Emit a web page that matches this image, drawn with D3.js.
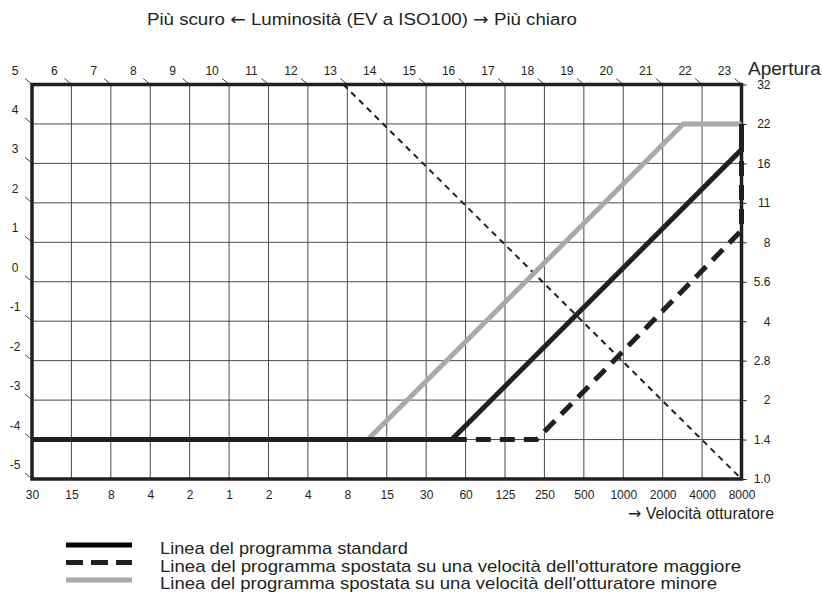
<!DOCTYPE html>
<html>
<head>
<meta charset="utf-8">
<script src="https://cdn.jsdelivr.net/npm/d3@7"></script>
<style>
  body { margin: 0; background: #fff; }
  text { font-family: "Liberation Sans", Arial, sans-serif; fill: #231f20; }
  tspan.arrow { font-family: "DejaVu Sans", sans-serif; }
</style>
</head>
<body>
<script>
// tick labels
var evLabels = [5, 6, 7, 8, 9, 10, 11, 12, 13, 14, 15, 16, 17, 18, 19, 20, 21, 22, 23];
var leftLabels = [5, 4, 3, 2, 1, 0, -1, -2, -3, -4, -5];
var shutterLabels = ["30", "15", "8", "4", "2", "1", "2", "4", "8", "15", "30", "60", "125", "250", "500", "1000", "2000", "4000", "8000"];
var apertureLabels = ["1.0", "1.4", "2", "2.8", "4", "5.6", "8", "11", "16", "22", "32"];

// program lines, [column step, aperture step]
var standardLine = [[0, 1], [10.65, 1], [18, 8.35], [18, 9]];
var fastLine = [[10.65, 1], [12.8, 1], [18, 6.3], [18, 9]];
var slowLine = [[8.52, 1], [16.52, 9], [18, 9]];
var evLine = [[7.9, 10], [18, 0]];

var legendItems = [
  "Linea del programma standard",
  "Linea del programma spostata su una velocità dell'otturatore maggiore",
  "Linea del programma spostata su una velocità dell'otturatore minore"
];

var dim = { width: 822, height: 597, left: 32, right: 741.5, top: 84.5, bottom: 479 };

var x = d3.scaleLinear().domain([0, 18]).range([dim.left, dim.right]);
var y = d3.scaleLinear().domain([0, 10]).range([dim.bottom, dim.top]);

var svg = d3.select("body").append("svg")
    .attr("width", dim.width)
    .attr("height", dim.height);

// title (arrows in DejaVu, which draws them wider)
var title = svg.append("text")
    .attr("x", 147).attr("y", 25)
    .attr("textLength", 430).attr("lengthAdjust", "spacingAndGlyphs")
    .style("font-size", "16px");
title.append("tspan").text("Più scuro ");
title.append("tspan").attr("class", "arrow").text("←");
title.append("tspan").text(" Luminosità (EV a ISO100) ");
title.append("tspan").attr("class", "arrow").text("→");
title.append("tspan").text(" Più chiaro");

// grid
var grid = svg.append("g").attr("class", "grid");
grid.selectAll("line.v").data(d3.range(1, 18)).enter()
  .append("line")
    .attr("x1", function(d) { return x(d); }).attr("x2", function(d) { return x(d); })
    .attr("y1", y(10)).attr("y2", y(0))
    .attr("stroke", "#4a4a4a").attr("stroke-width", 1);
grid.selectAll("line.h").data(d3.range(1, 10)).enter()
  .append("line")
    .attr("x1", x(0)).attr("x2", x(18))
    .attr("y1", function(d) { return y(d); }).attr("y2", function(d) { return y(d); })
    .attr("stroke", "#4a4a4a").attr("stroke-width", 1);

// bottom axis
var xAxis = d3.axisBottom(x).tickValues(d3.range(0, 19))
    .tickFormat(function(d) { return shutterLabels[d]; })
    .tickSize(0).tickPadding(11);
var gx = svg.append("g").attr("transform", "translate(0," + y(0) + ")").call(xAxis);
gx.select(".domain").remove();
gx.selectAll("text").style("font-size", "12px").style("font-family", "Liberation Sans, Arial, sans-serif").attr("fill", "#231f20");

// right axis
var yAxis = d3.axisRight(y).tickValues(d3.range(0, 11))
    .tickFormat(function(d) { return apertureLabels[d]; })
    .tickSize(5);
var gy = svg.append("g").attr("transform", "translate(" + x(18) + ",0)").call(yAxis);
gy.select(".domain").remove();
gy.selectAll("line").attr("stroke", "#231f20");
gy.selectAll("text")
    .attr("x", 29).attr("text-anchor", "end")
    .style("font-size", "12px").style("font-family", "Liberation Sans, Arial, sans-serif").attr("fill", "#231f20");

// EV labels with diagonal ticks (top row, then left column)
var evPoints = evLabels.map(function(v, i) { return { label: v, px: x(i), py: y(10) }; })
  .concat(leftLabels.slice(1).map(function(v, i) { return { label: v, px: x(0), py: y(9 - i) }; }));
var ev = svg.append("g").attr("class", "ev");
ev.selectAll("line").data(evPoints).enter().append("line")
    .attr("x1", function(d) { return d.px - 7; }).attr("y1", function(d) { return d.py - 6; })
    .attr("x2", function(d) { return d.px - 1; }).attr("y2", function(d) { return d.py - 1; })
    .attr("stroke", "#444").attr("stroke-width", 1);
ev.selectAll("text").data(evPoints).enter().append("text")
    .attr("x", function(d) { return d.px - 17; })
    .attr("y", function(d) { return d.py - 10; })
    .attr("text-anchor", "middle")
    .style("font-size", "12px")
    .text(function(d) { return d.label; });

// border
svg.append("rect")
    .attr("x", x(0)).attr("y", y(10))
    .attr("width", x(18) - x(0)).attr("height", y(0) - y(10))
    .attr("fill", "none").attr("stroke", "#231f20").attr("stroke-width", 3.5);

var line = d3.line().x(function(d) { return x(d[0]); }).y(function(d) { return y(d[1]); });

svg.append("path").datum(evLine).attr("d", line)
    .attr("fill", "none").attr("stroke", "#231f20").attr("stroke-width", 2)
    .attr("stroke-dasharray", "6,5");
svg.append("path").datum(slowLine).attr("d", line)
    .attr("fill", "none").attr("stroke", "#a7a9ac").attr("stroke-width", 5);
svg.append("path").datum(standardLine).attr("d", line)
    .attr("fill", "none").attr("stroke", "#231f20").attr("stroke-width", 5);
svg.append("path").datum(fastLine).attr("d", line)
    .attr("fill", "none").attr("stroke", "#231f20").attr("stroke-width", 5)
    .attr("stroke-dasharray", "15,9");

svg.append("text")
    .attr("x", 748).attr("y", 75)
    .style("font-size", "19px")
    .text("Apertura");

var speed = svg.append("text")
    .attr("x", 628).attr("y", 519)
    .attr("textLength", 146).attr("lengthAdjust", "spacingAndGlyphs")
    .style("font-size", "16px");
speed.append("tspan").attr("class", "arrow").text("→");
speed.append("tspan").text(" Velocità otturatore");

// legend
var legend = svg.append("g").attr("class", "legend");
var legendStyles = [
  { stroke: "#000", dash: null, width: 248 },
  { stroke: "#231f20", dash: "17,8", width: 581 },
  { stroke: "#a7a9ac", dash: null, width: 557 }
];
legendItems.forEach(function(t, i) {
  var ly = 545 + i * 17.5;
  legend.append("line")
      .attr("x1", 66).attr("x2", 132).attr("y1", ly).attr("y2", ly)
      .attr("stroke", legendStyles[i].stroke).attr("stroke-width", 5)
      .attr("stroke-dasharray", legendStyles[i].dash);
  legend.append("text")
      .attr("x", 160).attr("y", ly + 9)
      .attr("textLength", legendStyles[i].width).attr("lengthAdjust", "spacingAndGlyphs")
      .style("font-size", "17px")
      .text(t);
});
</script>
</body>
</html>
